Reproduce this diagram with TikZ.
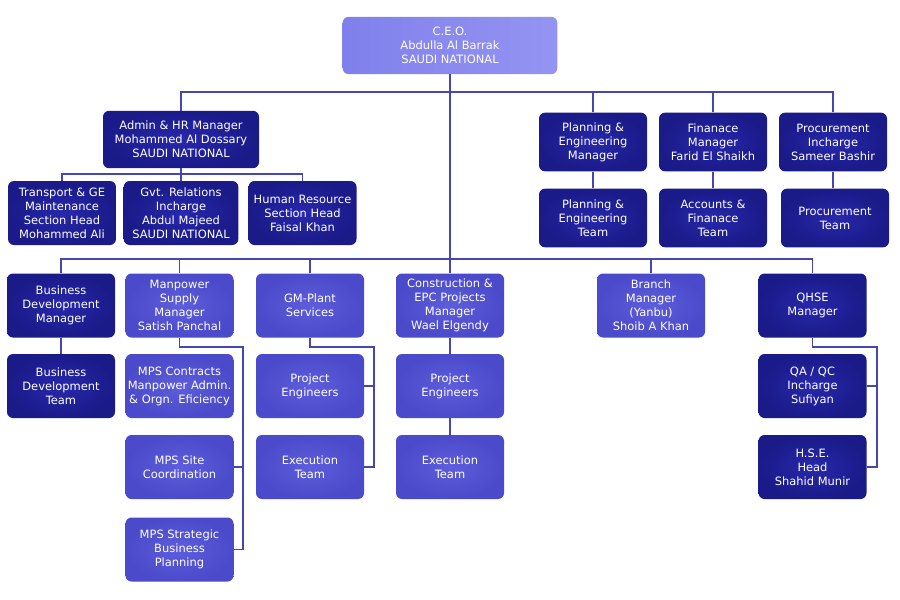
\documentclass[tikz,border=0pt]{standalone}
\usepackage{fontspec}
\setmainfont{DejaVu Sans}
\usepackage{tikz}
\usetikzlibrary{positioning,calc}
\definecolor{ceoblue}{HTML}{8080EC}
\definecolor{ceolight}{HTML}{9494F2}
\definecolor{midblue}{HTML}{4A4ACA}
\definecolor{midlight}{HTML}{5E5EDC}
\definecolor{darkblue}{HTML}{1A1A88}
\definecolor{darklight}{HTML}{2828AC}
\definecolor{linkblue}{HTML}{4646B0}
\tikzset{
  orgfont/.style={font=\fontsize{8.6}{10.5}\selectfont},
  orgbox/.style={rounded corners=4.5pt, align=center, text=white, inner sep=0pt,
    minimum width=81pt, minimum height=48pt, orgfont},
  ceobox/.style={orgbox, left color=ceoblue, right color=ceolight,
    minimum width=161pt, minimum height=43pt},
  darkbox/.style={orgbox, inner color=darklight, outer color=darkblue},
  midbox/.style={orgbox, inner color=midlight, outer color=midblue},
  orglink/.style={draw=linkblue, line width=0.95pt},
}

\begin{document}
\begin{tikzpicture}[x=0.75pt,y=-0.75pt]
  \useasboundingbox (0,0) rectangle (900,600);

  % CEO and first level
  \node[ceobox] (ceo) at (450,45.5) {C.E.O.\\Abdulla Al Barrak\\SAUDI NATIONAL};
  \node[darkbox, minimum width=117pt, minimum height=43pt] (admin) at (181,139.5)
    {Admin \& HR Manager\\Mohammed Al Dossary\\SAUDI NATIONAL};
  \node[darkbox, minimum height=44pt] (planmgr) at (593,142) {Planning \&\\Engineering\\Manager};
  \node[darkbox, minimum height=44pt] (finmgr) at (713,142) {Finanace\\Manager\\Farid El Shaikh};
  \node[darkbox, minimum height=44pt] (procin) at (833,142) {Procurement\\Incharge\\Sameer Bashir};

  % Admin sections
  \node[darkbox] (transport) at (62,213) {Transport \& GE\\Maintenance\\Section Head\\Mohammed Ali};
  \node[darkbox, minimum width=86pt] (gvt) at (181,213) {Gvt. Relations\\Incharge\\Abdul Majeed\\SAUDI NATIONAL};
  \node[darkbox] (hrsec) at (302.5,213) {Human Resource\\Section Head\\Faisal Khan};

  % Teams on the right
  \node[darkbox, minimum height=44pt] (planteam) at (593,218) {Planning \&\\Engineering\\Team};
  \node[darkbox, minimum height=44pt] (accteam) at (713,218) {Accounts \&\\Finanace\\Team};
  \node[darkbox, minimum height=44pt] (procteam) at (835,218) {Procurement\\Team};

  % Second level
  \node[darkbox] (bdm) at (61,305.5) {Business\\Development\\Manager};
  \node[midbox] (msm) at (179.5,305.5) {Manpower\\Supply\\Manager\\Satish Panchal};
  \node[midbox] (gmp) at (310,305.5) {GM-Plant\\Services};
  \node[midbox] (cepc) at (450,305.5) {Construction \&\\EPC Projects\\Manager\\Wael Elgendy};
  \node[midbox] (branch) at (651,305.5) {Branch\\Manager\\(Yanbu)\\Shoib A Khan};
  \node[darkbox] (qhse) at (812.5,305.5) {QHSE\\Manager};

  % Third level and below
  \node[darkbox] (bdteam) at (61,386) {Business\\Development\\Team};
  \node[midbox] (mpscon) at (179.5,386) {MPS Contracts\\Manpower Admin.\\\& Orgn. Eficiency};
  \node[midbox] (mpssite) at (179.5,467) {MPS Site\\Coordination};
  \node[midbox] (mpsstrat) at (179.5,549.5) {MPS Strategic\\Business\\Planning};
  \node[midbox] (gmpe) at (310,386) {Project\\Engineers};
  \node[midbox] (gmexec) at (310,467) {Execution\\Team};
  \node[midbox] (cepcpe) at (450,386) {Project\\Engineers};
  \node[midbox] (cepcexec) at (450,467) {Execution\\Team};
  \node[darkbox] (qaqc) at (812.5,386) {QA / QC\\Incharge\\Sufiyan};
  \node[darkbox] (hse) at (812.5,467) {H.S.E.\\Head\\Shahid Munir};

  % bars and bends
  \coordinate (topbar) at (450,92);
  \coordinate (midbar) at (450,259);
  \coordinate (adminbar) at (181,174);
  \coordinate (msmbend) at (243,347);
  \coordinate (gmbend) at (374,347);
  \coordinate (qbend) at (877,347);

  % connectors
  \draw[orglink] (ceo.south) -- (cepc.north);
  \draw[orglink] (admin.north) |- (topbar) -| (procin.north);
  \draw[orglink] (planmgr.north) -- (planmgr.north |- topbar);
  \draw[orglink] (finmgr.north) -- (finmgr.north |- topbar);
  \draw[orglink] (transport.north) |- (adminbar) -| (hrsec.north);
  \draw[orglink] (admin.south) -- (gvt.north);
  \draw[orglink] (planmgr.south) -- (planteam.north);
  \draw[orglink] (finmgr.south) -- (accteam.north);
  \draw[orglink] (procin.south) -- (procin.south |- procteam.north);
  \draw[orglink] (bdm.north) |- (midbar) -| (qhse.north);
  \draw[orglink] (msm.north) -- (msm.north |- midbar);
  \draw[orglink] (gmp.north) -- (gmp.north |- midbar);
  \draw[orglink] (branch.north) -- (branch.north |- midbar);
  \draw[orglink] (bdm.south) -- (bdteam.north);
  \draw[orglink] (msm.south) |- (msmbend) |- (mpsstrat.east);
  \draw[orglink] (msmbend |- mpssite.east) -- (mpssite.east);
  \draw[orglink] (gmp.south) |- (gmbend) |- (gmexec.east);
  \draw[orglink] (gmbend |- gmpe.east) -- (gmpe.east);
  \draw[orglink] (cepc.south) -- (cepcpe.north);
  \draw[orglink] (cepcpe.south) -- (cepcexec.north);
  \draw[orglink] (qhse.south) |- (qbend) |- (hse.east);
  \draw[orglink] (qbend |- qaqc.east) -- (qaqc.east);
\end{tikzpicture}
\end{document}
